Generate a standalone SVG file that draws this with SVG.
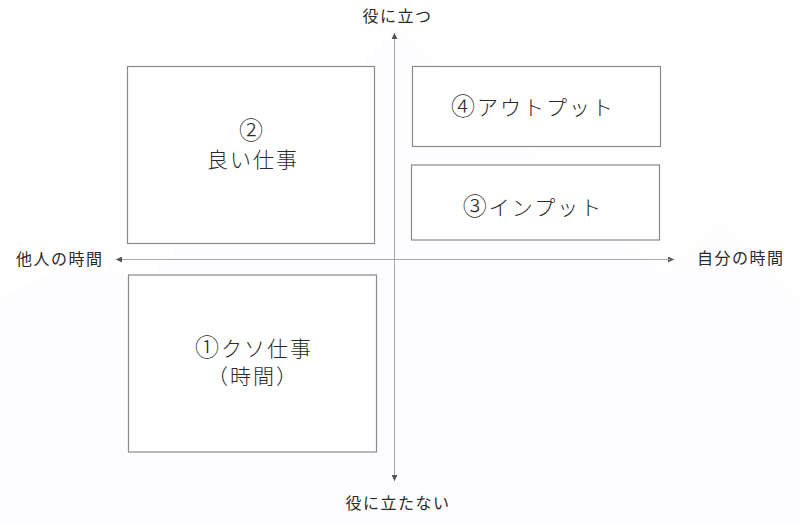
<svg xmlns="http://www.w3.org/2000/svg" width="800" height="525" viewBox="0 0 800 525">
  <style>
    .box { fill: #ffffff; stroke: #8a8a8a; stroke-width: 1.2; }
    .axis { stroke: #a8a8a8; stroke-width: 1; fill: none; }
    .lbl { font-family: "Noto Sans CJK JP", "Noto Sans", sans-serif; font-weight: 300; font-size: 21px; letter-spacing: 2px; fill: #2a2a2a; text-anchor: middle; }
    .num { font-size: 24px; }
    .ax { font-family: "Noto Sans CJK JP", "Noto Sans", sans-serif; font-size: 16px; letter-spacing: 1.5px; fill: #2a2a2a; }
  </style>
  <defs>
    <marker id="arrow" viewBox="0 0 6 6" refX="6" refY="3" markerWidth="6" markerHeight="6" markerUnits="userSpaceOnUse" orient="auto-start-reverse">
      <path d="M0,0 L6,3 L0,6 z" fill="#555555"/>
    </marker>
  </defs>
  <rect x="0" y="0" width="800" height="525" fill="#ffffff"/>
  <polygon id="tint" points="397,28 150,275 60,270 0,300 0,525 800,525 800,300 720,220 665,275" fill="#fdfcfe"/>

  <g id="connectors">
    <line class="axis" x1="394.5" y1="479" x2="394.5" y2="33" marker-end="url(#arrow)"/>
    <line class="axis" x1="394.5" y1="40" x2="394.5" y2="481" marker-end="url(#arrow)"/>
    <line class="axis" x1="118" y1="259.5" x2="674" y2="259.5" marker-end="url(#arrow)"/>
    <line class="axis" x1="670" y1="259.5" x2="116" y2="259.5" marker-end="url(#arrow)"/>
  </g>

  <g id="label-top"><text class="ax" x="397.5" y="21.5" text-anchor="middle">役に立つ</text></g>
  <g id="label-bottom"><text class="ax" x="398" y="509" text-anchor="middle">役に立たない</text></g>
  <g id="label-left"><text class="ax" x="16" y="265">他人の時間</text></g>
  <g id="label-right"><text class="ax" x="697" y="264">自分の時間</text></g>

  <g id="node2">
    <rect class="box" x="127.5" y="66.5" width="247" height="177"/>
    <text class="lbl num" x="252" y="139">②</text>
    <text class="lbl" x="253" y="167">良い仕事</text>
  </g>
  <g id="node4">
    <rect class="box" x="412.5" y="66.5" width="248" height="80"/>
    <text class="lbl" x="533" y="115"><tspan class="num">④</tspan>アウトプット</text>
  </g>
  <g id="node3">
    <rect class="box" x="411.5" y="165" width="248" height="75"/>
    <text class="lbl" x="533" y="214.5"><tspan class="num">③</tspan>インプット</text>
  </g>
  <g id="node1">
    <rect class="box" x="128.5" y="275" width="248" height="177"/>
    <text class="lbl" x="254" y="356"><tspan class="num">①</tspan>クソ仕事</text>
    <text class="lbl" x="253" y="384">（時間）</text>
  </g>
</svg>
